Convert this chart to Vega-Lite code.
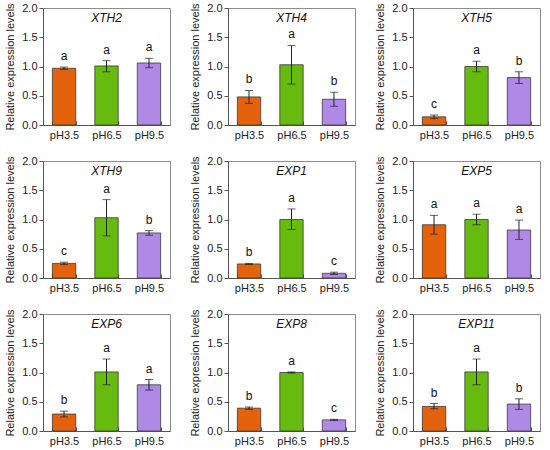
{
  "$schema": "https://vega.github.io/schema/vega-lite/v6.json",
  "padding": {"left": 4, "top": 1, "right": 5, "bottom": 3},
  "background": "white",
  "config": {
    "font": "Liberation Sans",
    "view": {"stroke": "#8c8c8c", "strokeWidth": 1},
    "axis": {"domainColor": "#555555", "tickColor": "#555555", "labelColor": "#222222", "titleColor": "#222222", "labelFont": "Liberation Sans", "titleFont": "Liberation Sans", "grid": false},
    "axisY": {"title": "Relative expression levels", "titleFontSize": 11, "titleFontWeight": "normal", "titlePadding": 6, "values": [0, 0.5, 1, 1.5, 2], "format": ".1f", "labelFontSize": 11, "tickSize": 4},
    "header": {"labels": false, "title": null, "labelFontSize": 0, "labelPadding": 0, "titlePadding": 0, "labelExpr": "''"}
  },
  "data": {"values": [
    {"gene": "XTH2", "pH": "pH3.5", "mean": 0.97, "lo": 0.95, "hi": 0.99, "letter": "a"},
    {"gene": "XTH2", "pH": "pH6.5", "mean": 1.01, "lo": 0.91, "hi": 1.10, "letter": "a"},
    {"gene": "XTH2", "pH": "pH9.5", "mean": 1.06, "lo": 0.98, "hi": 1.14, "letter": "a"},
    {"gene": "XTH4", "pH": "pH3.5", "mean": 0.48, "lo": 0.37, "hi": 0.59, "letter": "b"},
    {"gene": "XTH4", "pH": "pH6.5", "mean": 1.03, "lo": 0.70, "hi": 1.36, "letter": "a"},
    {"gene": "XTH4", "pH": "pH9.5", "mean": 0.44, "lo": 0.32, "hi": 0.56, "letter": "b"},
    {"gene": "XTH5", "pH": "pH3.5", "mean": 0.14, "lo": 0.11, "hi": 0.17, "letter": "c"},
    {"gene": "XTH5", "pH": "pH6.5", "mean": 1.00, "lo": 0.91, "hi": 1.09, "letter": "a"},
    {"gene": "XTH5", "pH": "pH9.5", "mean": 0.81, "lo": 0.71, "hi": 0.91, "letter": "b"},
    {"gene": "XTH9", "pH": "pH3.5", "mean": 0.25, "lo": 0.23, "hi": 0.27, "letter": "c"},
    {"gene": "XTH9", "pH": "pH6.5", "mean": 1.03, "lo": 0.72, "hi": 1.34, "letter": "a"},
    {"gene": "XTH9", "pH": "pH9.5", "mean": 0.77, "lo": 0.73, "hi": 0.81, "letter": "b"},
    {"gene": "EXP1", "pH": "pH3.5", "mean": 0.24, "lo": 0.23, "hi": 0.25, "letter": "b"},
    {"gene": "EXP1", "pH": "pH6.5", "mean": 1.00, "lo": 0.83, "hi": 1.18, "letter": "a"},
    {"gene": "EXP1", "pH": "pH9.5", "mean": 0.08, "lo": 0.06, "hi": 0.10, "letter": "c"},
    {"gene": "EXP5", "pH": "pH3.5", "mean": 0.91, "lo": 0.75, "hi": 1.07, "letter": "a"},
    {"gene": "EXP5", "pH": "pH6.5", "mean": 1.00, "lo": 0.91, "hi": 1.09, "letter": "a"},
    {"gene": "EXP5", "pH": "pH9.5", "mean": 0.82, "lo": 0.66, "hi": 0.99, "letter": "a"},
    {"gene": "EXP6", "pH": "pH3.5", "mean": 0.29, "lo": 0.24, "hi": 0.34, "letter": "b"},
    {"gene": "EXP6", "pH": "pH6.5", "mean": 1.01, "lo": 0.79, "hi": 1.23, "letter": "a"},
    {"gene": "EXP6", "pH": "pH9.5", "mean": 0.79, "lo": 0.70, "hi": 0.88, "letter": "a"},
    {"gene": "EXP8", "pH": "pH3.5", "mean": 0.39, "lo": 0.37, "hi": 0.41, "letter": "b"},
    {"gene": "EXP8", "pH": "pH6.5", "mean": 1.00, "lo": 0.99, "hi": 1.01, "letter": "a"},
    {"gene": "EXP8", "pH": "pH9.5", "mean": 0.19, "lo": 0.18, "hi": 0.20, "letter": "c"},
    {"gene": "EXP11", "pH": "pH3.5", "mean": 0.42, "lo": 0.38, "hi": 0.47, "letter": "b"},
    {"gene": "EXP11", "pH": "pH6.5", "mean": 1.01, "lo": 0.79, "hi": 1.23, "letter": "a"},
    {"gene": "EXP11", "pH": "pH9.5", "mean": 0.46, "lo": 0.37, "hi": 0.55, "letter": "b"}
  ]},
  "facet": {"field": "gene", "type": "nominal", "sort": ["XTH2", "XTH4", "XTH5", "XTH9", "EXP1", "EXP5", "EXP6", "EXP8", "EXP11"], "header": {"labels": false, "title": null, "labelPadding": 0, "labelFontSize": 0, "labelExpr": "''"}, "title": null},
  "columns": 3,
  "spacing": {"row": 36, "column": 58},
  "bounds": "flush",
  "resolve": {"axis": {"x": "independent", "y": "independent"}},
  "spec": {
    "width": 127,
    "height": 117,
    "encoding": {
      "x": {"field": "pH", "type": "nominal", "sort": ["pH3.5", "pH6.5", "pH9.5"],
        "scale": {"paddingInner": 0.45, "paddingOuter": 0.22},
        "axis": {"title": null, "labelAngle": 0, "labelFontSize": 11, "tickBand": "extent", "tickSize": -4, "labelPadding": 8, "domainColor": "#555555"}}
    },
    "layer": [
      {
        "mark": {"type": "bar", "stroke": "#3a3a3a", "strokeWidth": 0.8},
        "encoding": {
          "y": {"field": "mean", "type": "quantitative", "scale": {"domain": [0, 2]}, "title": "Relative expression levels"},
          "color": {"field": "pH", "type": "nominal", "legend": null,
            "scale": {"domain": ["pH3.5", "pH6.5", "pH9.5"], "range": ["#E4620C", "#66BB0E", "#B088E6"]}}
        }
      },
      {
        "mark": {"type": "errorbar", "ticks": {"size": 8, "color": "#222222"}, "rule": {"color": "#222222", "strokeWidth": 1}},
        "encoding": {
          "y": {"field": "lo", "type": "quantitative", "title": "Relative expression levels"},
          "y2": {"field": "hi"}
        }
      },
      {
        "mark": {"type": "text", "baseline": "bottom", "dy": -4, "fontSize": 12, "color": "#111111"},
        "encoding": {
          "y": {"field": "hi", "type": "quantitative", "title": "Relative expression levels"},
          "text": {"field": "letter"}
        }
      },
      {
        "transform": [{"filter": "datum.pH === 'pH6.5'"}],
        "mark": {"type": "text", "fontStyle": "italic", "fontSize": 12, "color": "#111111", "baseline": "middle"},
        "encoding": {
          "y": {"datum": 1.83, "type": "quantitative"},
          "text": {"field": "gene"}
        }
      }
    ]
  }
}
